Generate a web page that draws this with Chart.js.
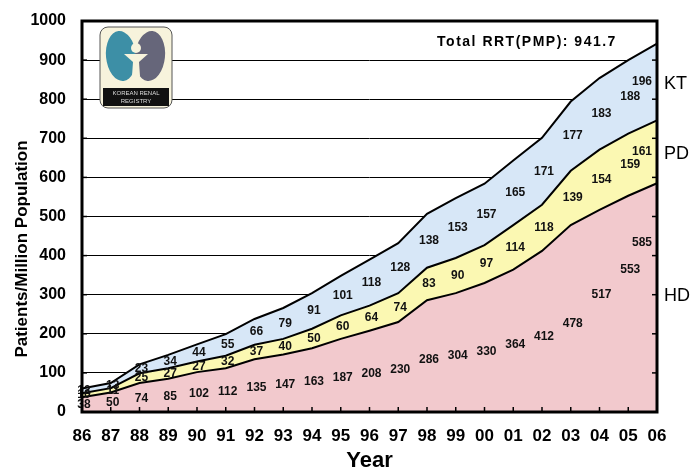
<!DOCTYPE html>
<html>
<head>
<meta charset="utf-8">
<script src="https://cdn.jsdelivr.net/npm/chart.js@4.4.1/dist/chart.umd.min.js"></script>
<style>
  body { margin: 0; background: #fff; }
  #wrap { width: 691px; height: 474px; position: relative; }
</style>
</head>
<body>
<div id="wrap"><canvas id="rrtChart"></canvas></div>
<script>
// ---------------- DATA ----------------
const years = ["86","87","88","89","90","91","92","93","94","95","96","97","98","99","00","01","02","03","04","05","06"];
const hdValues = [38, 50, 74, 85, 102, 112, 135, 147, 163, 187, 208, 230, 286, 304, 330, 364, 412, 478, 517, 553, 585];
const pdValues = [10, 11, 25, 27, 27, 32, 37, 40, 50, 60, 64, 74, 83, 90, 97, 114, 118, 139, 154, 159, 161];
const ktValues = [12, 13, 23, 34, 44, 55, 66, 79, 91, 101, 118, 128, 138, 153, 157, 165, 171, 177, 183, 188, 196];
const yTicks = [0, 100, 200, 300, 400, 500, 600, 700, 800, 900, 1000];
const totalText = "Total RRT(PMP): 941.7";

const FONT = "'Liberation Sans', Arial, sans-serif";

// ---------------- PLUGINS ----------------
// numbers inside each band (HD numbers sit a bit below the band middle, the last ones higher)
const hdLabelFrac = i => (i === 20 ? 0.74 : i === 19 ? 0.66 : i === 18 ? 0.58 : 0.47);

const bandLabels = {
    id: "bandLabels",
    afterDatasetsDraw(chart) {
        const { ctx, chartArea } = chart;
        const xs = chart.scales.x, ys = chart.scales.y;
        ctx.save();
        ctx.font = "bold 12px " + FONT;
        ctx.fillStyle = "#111";
        ctx.textAlign = "center";
        ctx.textBaseline = "middle";
        const series = [hdValues, pdValues, ktValues];
        years.forEach((y, i) => {
            let base = 0;
            series.forEach((vals, s) => {
                const v = vals[i];
                let px = xs.getPixelForValue(i);
                px = Math.min(px, chartArea.right - 17);
                const frac = s === 0 ? hdLabelFrac(i) : 0.5;
                const py = ys.getPixelForValue(base + v * frac);
                ctx.fillText(String(v), px + 2, py);
                base += v;
            });
        });
        ctx.restore();
    }
};

// frame, small ticks, texts, logo
const decor = {
    id: "decor",
    afterDraw(chart) {
        const { ctx, chartArea: a } = chart;
        const xs = chart.scales.x, ys = chart.scales.y;
        ctx.save();
        // small inner ticks
        ctx.strokeStyle = "#000";
        ctx.lineWidth = 1.5;
        years.forEach((y, i) => {
            const px = xs.getPixelForValue(i);
            ctx.beginPath(); ctx.moveTo(px, a.bottom); ctx.lineTo(px, a.bottom - 5); ctx.stroke();
        });
        yTicks.forEach(t => {
            const py = ys.getPixelForValue(t);
            ctx.beginPath(); ctx.moveTo(a.right, py); ctx.lineTo(a.right - 5, py); ctx.stroke();
            ctx.beginPath(); ctx.moveTo(a.left, py); ctx.lineTo(a.left + 5, py); ctx.stroke();
        });
        // frame
        ctx.lineWidth = 3;
        ctx.strokeRect(a.left, a.top, a.right - a.left, a.bottom - a.top);

        // y title
        ctx.save();
        ctx.translate(22, 249);
        ctx.rotate(-Math.PI / 2);
        ctx.font = "bold 17px " + FONT;
        ctx.fillStyle = "#000";
        ctx.textAlign = "center";
        ctx.textBaseline = "middle";
        ctx.fillText("Patients/Million Population", 0, 0);
        ctx.restore();

        // total text
        ctx.save();
        ctx.font = "bold 14px " + FONT;
        ctx.letterSpacing = "1.5px";
        ctx.fillStyle = "#000";
        ctx.textAlign = "center";
        ctx.textBaseline = "middle";
        ctx.fillText(totalText, 527, 42);
        ctx.restore();

        // right legends
        ctx.font = "18px " + FONT;
        ctx.fillStyle = "#000";
        ctx.textBaseline = "middle";
        ctx.textAlign = "left";
        ctx.fillText("KT", 664, 84);
        ctx.fillText("PD", 664, 154);
        ctx.fillText("HD", 664, 296);

        // logo
        const lx = 100, ly = 27, lw = 72, lh = 81;
        ctx.fillStyle = "#f7f3dc";
        ctx.strokeStyle = "#555";
        ctx.lineWidth = 1;
        ctx.beginPath();
        ctx.roundRect(lx, ly, lw, lh, 8);
        ctx.fill(); ctx.stroke();
        ctx.fillStyle = "#3d8fa6";
        ctx.beginPath(); ctx.ellipse(121, 56, 15, 25, -0.1, 0, Math.PI * 2); ctx.fill();
        ctx.fillStyle = "#66667a";
        ctx.beginPath(); ctx.ellipse(150, 56, 15, 25, 0.1, 0, Math.PI * 2); ctx.fill();
        ctx.fillStyle = "#f7f3dc";
        ctx.beginPath();
        ctx.moveTo(124, 54); ctx.lineTo(148, 54); ctx.lineTo(139, 62); ctx.lineTo(140, 76);
        ctx.lineTo(132, 76); ctx.lineTo(133, 62); ctx.closePath(); ctx.fill();
        ctx.beginPath(); ctx.arc(136, 48, 5, 0, Math.PI * 2); ctx.fill();
        ctx.fillStyle = "#111";
        ctx.fillRect(lx + 3, 88, lw - 6, 18);
        ctx.fillStyle = "#ddd";
        ctx.font = "6px " + FONT;
        ctx.textAlign = "center";
        ctx.fillText("KOREAN RENAL", 136, 93);
        ctx.fillText("REGISTRY", 136, 101);
        ctx.restore();
    }
};

// ---------------- CHART ----------------
const lineStyle = { borderColor: "#000", borderWidth: 2, pointRadius: 0, tension: 0 };

new Chart(document.getElementById("rrtChart"), {
    type: "line",
    data: {
        labels: years,
        datasets: [
            { label: "HD", data: hdValues, fill: "origin", backgroundColor: "#f2c9cd", ...lineStyle },
            { label: "PD", data: pdValues, fill: "-1", backgroundColor: "#fbf8b2", ...lineStyle },
            { label: "KT", data: ktValues, fill: "-1", backgroundColor: "#d7e7f7", ...lineStyle }
        ]
    },
    options: {
        responsive: true,
        maintainAspectRatio: false,
        animation: false,
        layout: { padding: { top: 21, right: 34, left: 0, bottom: 0 } },
        plugins: {
            legend: { display: false },
            tooltip: { enabled: false }
        },
        scales: {
            x: {
                offset: false,
                grid: { display: false },
                border: { display: false },
                ticks: { color: "#000", font: { family: FONT, size: 17, weight: "bold" }, padding: 6, maxRotation: 0, autoSkip: false },
                title: { display: true, text: "Year", color: "#000", font: { family: FONT, size: 22, weight: "bold" }, padding: { top: 0, bottom: 0 } },
                afterFit(scale) { scale.height = 62; scale.paddingLeft = 0; scale.paddingRight = 0; }
            },
            y: {
                stacked: true,
                min: 0,
                max: 1000,
                afterBuildTicks(scale) { scale.ticks = yTicks.map(v => ({ value: v })); },
                grid: { color: "#000", lineWidth: 1, drawTicks: false },
                border: { display: false },
                ticks: {
                    color: "#000",
                    font: { family: FONT, size: 16, weight: "bold" },
                    padding: 16,
                    callback: v => String(v)
                },
                afterFit(scale) { scale.width = 82; scale.paddingTop = 0; scale.paddingBottom = 0; }
            }
        }
    },
    plugins: [bandLabels, decor]
});
</script>
</body>
</html>
